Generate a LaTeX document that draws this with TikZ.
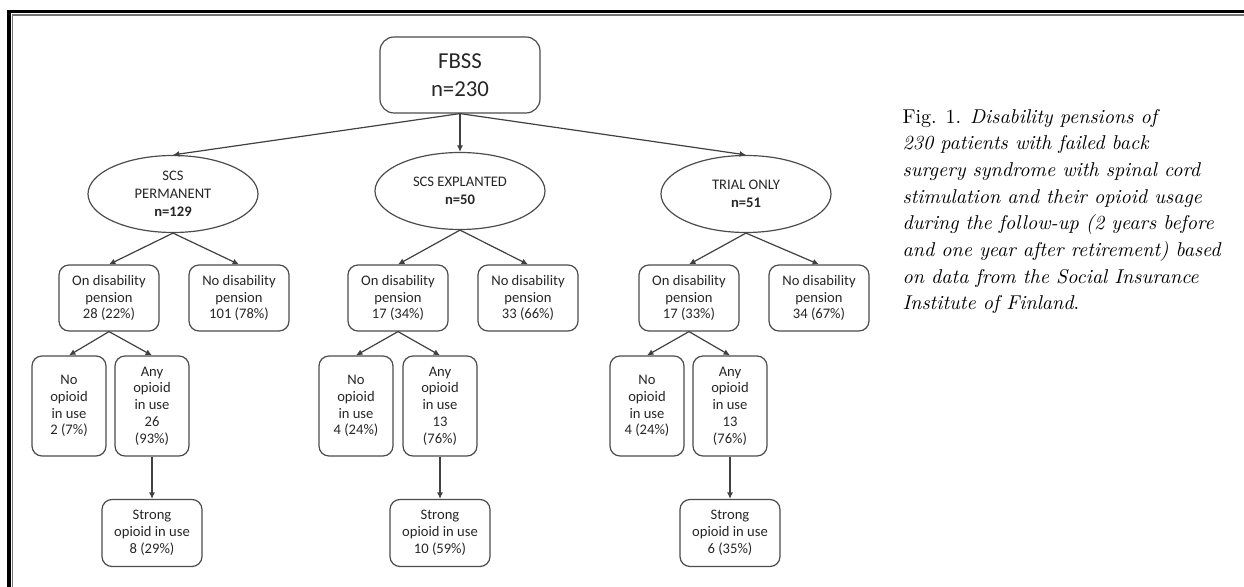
\documentclass[tikz,border=0pt]{standalone}
\usepackage{fontspec}
\newfontfamily\calib{Carlito}
\usetikzlibrary{shapes.geometric, arrows.meta}
\begin{document}
\begin{tikzpicture}[>={Latex[length=3.2pt,width=3pt]}, x=0.5pt, y=-0.5pt, line width=0.6pt,
    every node/.style={font=\calib\fontsize{7.3}{8.4}\selectfont, text=black!85, align=center, inner sep=0pt},
    rbox/.style={draw=black!70, rounded corners=5pt},
    oval/.style={draw=black!70, ellipse, minimum width=85pt, minimum height=38.5pt, font=\calib\fontsize{7.3}{9}\selectfont},
    pension/.style={rbox, minimum width=50pt, minimum height=33pt},
    opioid/.style={rbox, minimum width=37pt, minimum height=50pt},
    strong/.style={rbox, minimum width=50pt, minimum height=33.5pt},
    link/.style={->, draw=black!75}]
\useasboundingbox (0,0) rectangle (1244,587);
% frame
\draw [line width=1.6pt] (9,587)--(9,11.7)--(1244,11.7);
\draw [line width=0.7pt, black!55] (12.7,587)--(12.7,15)--(1244,15);
% root
\node [rbox, rounded corners=7pt, minimum width=80pt, minimum height=38pt, font=\calib\fontsize{11.4}{14}\selectfont] (fbss) at (460,75) {FBSS\\n=230};
% groups
\node [oval] (perm) at (173,194) {SCS\\PERMANENT\\\textbf{n=129}};
\node [oval] (expl) at (460,191) {SCS EXPLANTED\\\textbf{n=50}};
\node [oval] (trial) at (746,194) {TRIAL ONLY\\\textbf{n=51}};
\draw [link] (fbss.south)--(perm.north);
\draw [link] (fbss.south)--(expl.north);
\draw [link] (fbss.south)--(trial.north);
% pensions
\node [pension] (permOn) at (109,298) {On disability\\pension\\28 (22\%)};
\node [pension] (permNo) at (239,298) {No disability\\pension\\101 (78\%)};
\node [pension] (explOn) at (398,298) {On disability\\pension\\17 (34\%)};
\node [pension] (explNo) at (528,298) {No disability\\pension\\33 (66\%)};
\node [pension] (trialOn) at (689,298) {On disability\\pension\\17 (33\%)};
\node [pension] (trialNo) at (819,298) {No disability\\pension\\34 (67\%)};
\draw [link] (perm.south)--(permOn.north);
\draw [link] (perm.south)--(permNo.north);
\draw [link] (expl.south)--(explOn.north);
\draw [link] (expl.south)--(explNo.north);
\draw [link] (trial.south)--(trialOn.north);
\draw [link] (trial.south)--(trialNo.north);
% opioid use
\node [opioid] (permNone) at (69,406) {No\\opioid\\in use\\2 (7\%)};
\node [opioid] (permAny) at (152,406) {Any\\opioid\\in use\\26\\(93\%)};
\node [opioid] (explNone) at (356,406) {No\\opioid\\in use\\4 (24\%)};
\node [opioid] (explAny) at (440,406) {Any\\opioid\\in use\\13\\(76\%)};
\node [opioid] (trialNone) at (647,406) {No\\opioid\\in use\\4 (24\%)};
\node [opioid] (trialAny) at (730,406) {Any\\opioid\\in use\\13\\(76\%)};
\draw [link] (permOn.south)--(permNone.north);
\draw [link] (permOn.south)--(permAny.north);
\draw [link] (explOn.south)--(explNone.north);
\draw [link] (explOn.south)--(explAny.north);
\draw [link] (trialOn.south)--(trialNone.north);
\draw [link] (trialOn.south)--(trialAny.north);
% strong opioids
\node [strong] (permStrong) at (152,533) {Strong\\opioid in use\\8 (29\%)};
\node [strong] (explStrong) at (440,533) {Strong\\opioid in use\\10 (59\%)};
\node [strong] (trialStrong) at (730,533) {Strong\\opioid in use\\6 (35\%)};
\draw [link] (permAny.south)--(permStrong.north);
\draw [link] (explAny.south)--(explStrong.north);
\draw [link] (trialAny.south)--(trialStrong.north);
% caption (base = last line)
\node [anchor=base west, align=left, text=black, font=\fontsize{10}{13.35}\selectfont] (caption) at (902,310)
  {Fig. 1. \textit{Disability pensions of}\\
   \textit{230 patients with failed back}\\
   \textit{surgery syndrome with spinal cord}\\
   \textit{stimulation and their opioid usage}\\
   \textit{during the follow-up (2 years before}\\
   \textit{and one year after retirement) based}\\
   \textit{on data from the Social Insurance}\\
   \textit{Institute of  Finland}.};
\end{tikzpicture}
\end{document}
